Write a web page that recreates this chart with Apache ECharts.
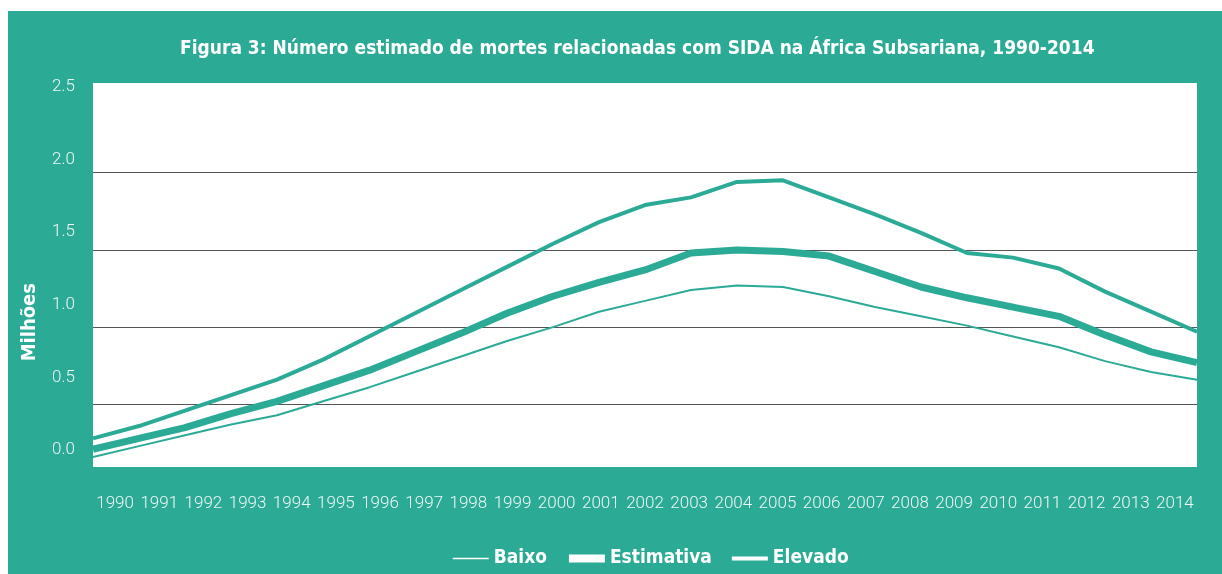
<!DOCTYPE html>
<html>
<head>
<meta charset="utf-8">
<script src="https://cdn.jsdelivr.net/npm/echarts@6/dist/echarts.min.js"></script>
<style>
  html, body { margin: 0; padding: 0; background: #fff; }
  #chart { position: absolute; left: 8px; top: 11px; width: 1214px; height: 563px; background: #2baa96; }
</style>
</head>
<body>
<div id="chart"></div>
<script>
// anos e valores (milhões de mortes)
var years = ['1990','1991','1992','1993','1994','1995','1996','1997','1998','1999','2000','2001','2002',
             '2003','2004','2005','2006','2007','2008','2009','2010','2011','2012','2013','2014'];
var baixo = [0.16,0.23,0.30,0.37,0.43,0.52,0.61,0.71,0.81,0.91,1.00,1.10,1.17,1.24,1.27,1.26,1.20,1.13,1.07,1.01,0.94,0.87,0.78,0.71,0.66];
var estimativa = [0.21,0.28,0.35,0.44,0.52,0.62,0.72,0.84,0.96,1.09,1.20,1.29,1.37,1.48,1.50,1.49,1.46,1.36,1.26,1.19,1.13,1.07,0.95,0.84,0.77];
var elevado = [0.28,0.36,0.46,0.56,0.66,0.79,0.94,1.09,1.24,1.39,1.54,1.68,1.79,1.84,1.94,1.95,1.84,1.73,1.61,1.48,1.45,1.38,1.23,1.10,0.97];
var gridValues = [0.5, 1.0, 1.5, 2.0];
var tickLabels = [0, 0.5, 1.0, 1.5, 2.0, 2.5];

var teal = '#2baa96';
var narrow = "'DejaVu Sans Condensed', sans-serif";
var light = "Roboto, sans-serif";

var myChart = echarts.init(document.getElementById('chart'));
var option = {
    backgroundColor: teal,
    title: {
        text: 'Figura 3: Número estimado de mortes relacionadas com SIDA na África Subsariana, 1990-2014',
        left: 167,
        top: 24,
        textStyle: { color: '#fff', fontFamily: narrow, fontWeight: 'bold', fontSize: 19 }
    },
    legend: {
        left: 439,
        top: 533,
        itemWidth: 36,
        itemHeight: 14,
        itemGap: 18,
        textStyle: { color: '#fff', fontFamily: narrow, fontWeight: 'bold', fontSize: 19 },
        data: [
            { name: 'Baixo', lineStyle: { color: '#fff', width: 1.5 }, itemStyle: { opacity: 0 } },
            { name: 'Estimativa', lineStyle: { color: '#fff', width: 8 }, itemStyle: { opacity: 0 } },
            { name: 'Elevado', lineStyle: { color: '#fff', width: 4 }, itemStyle: { opacity: 0 } }
        ]
    },
    graphic: [{
        type: 'text',
        left: 12,
        top: 272,
        rotation: Math.PI / 2,
        style: { text: 'Milhões', fill: '#fff', font: "bold 20px " + narrow }
    }],
    grid: {
        left: 85, top: 72, right: 25, bottom: 107,
        show: true, backgroundColor: '#fff', borderWidth: 0
    },
    xAxis: [{
        type: 'category',
        data: years,
        boundaryGap: true,
        axisLine: { show: false },
        axisTick: { show: false },
        axisLabel: { interval: 0, margin: 28, color: '#eef8f6', fontFamily: light, fontWeight: 300, fontSize: 17 }
    }, {
        type: 'category',
        data: years,
        boundaryGap: false,
        show: false
    }],
    yAxis: [{
        type: 'value',
        min: 0.095,
        max: 2.58,
        axisLine: { show: false },
        axisTick: { show: false, customValues: gridValues },
        axisLabel: { show: false },
        splitLine: { show: true, lineStyle: { color: '#555', width: 1 } }
    }, {
        type: 'value',
        position: 'left',
        min: -0.118,
        max: 2.527,
        axisLine: { show: false },
        axisTick: { show: false },
        splitLine: { show: false },
        axisLabel: {
            customValues: tickLabels,
            margin: 18,
            color: '#eef8f6', fontFamily: light, fontWeight: 300, fontSize: 17,
            formatter: function (v) { return v.toFixed(1); }
        }
    }],
    series: [
        { name: 'Baixo', type: 'line', xAxisIndex: 1, yAxisIndex: 0, data: baixo, symbol: 'none',
          lineStyle: { color: teal, width: 2 }, itemStyle: { color: teal } },
        { name: 'Estimativa', type: 'line', xAxisIndex: 1, yAxisIndex: 0, data: estimativa, symbol: 'none',
          lineStyle: { color: teal, width: 7 }, itemStyle: { color: teal } },
        { name: 'Elevado', type: 'line', xAxisIndex: 1, yAxisIndex: 0, data: elevado, symbol: 'none',
          lineStyle: { color: teal, width: 4 }, itemStyle: { color: teal } }
    ]
};
myChart.setOption(option);
</script>
</body>
</html>
